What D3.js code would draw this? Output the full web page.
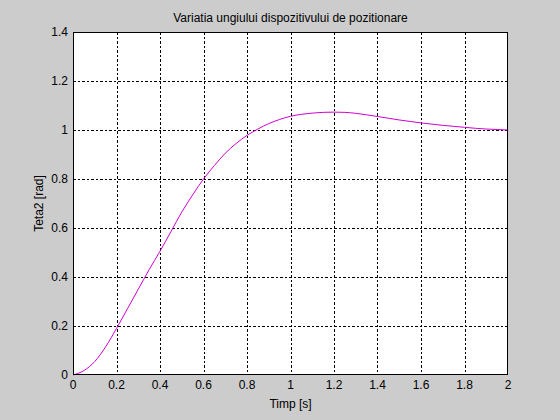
<!DOCTYPE html>
<html lang="en">
<head>
    <meta charset="UTF-8">
    <title>Variatia ungiului</title>
    <script src="https://d3js.org/d3.v7.min.js"></script>
    <style>
        body {
            margin: 0;
            padding: 0;
            background-color: #cccccc;
        }
        svg {
            display: block;
            font-family: "Liberation Sans", Arial, sans-serif;
        }
        .grid line {
            stroke: #000;
            stroke-dasharray: 2.5,2;
            shape-rendering: crispEdges;
        }
        .tick-label {
            font-size: 12px;
            fill: #000;
        }
    </style>
</head>
<body>
    <div id="chart"></div>
    <script>
        // time [s] and angle [rad]
        var timp = [0, 0.05, 0.1, 0.15, 0.2, 0.25, 0.3, 0.35, 0.4, 0.45, 0.5,
                    0.55, 0.6, 0.65, 0.7, 0.75, 0.8, 0.85, 0.9, 0.95, 1.0,
                    1.05, 1.1, 1.15, 1.2, 1.25, 1.3, 1.35, 1.4, 1.45, 1.5,
                    1.55, 1.6, 1.65, 1.7, 1.75, 1.8, 1.85, 1.9, 1.95, 2.0];
        var teta2 = [0, 0.018, 0.055, 0.115, 0.19, 0.27, 0.35, 0.43, 0.505, 0.585, 0.665,
                     0.735, 0.80, 0.855, 0.905, 0.945, 0.978, 1.004, 1.026, 1.043, 1.056,
                     1.064, 1.069, 1.072, 1.073, 1.072, 1.068, 1.062, 1.055, 1.048, 1.041,
                     1.035, 1.029, 1.024, 1.019, 1.015, 1.011, 1.007, 1.004, 1.002, 1.0];
        var xTicks = [0, 0.2, 0.4, 0.6, 0.8, 1, 1.2, 1.4, 1.6, 1.8, 2];
        var yTicks = [0, 0.2, 0.4, 0.6, 0.8, 1, 1.2, 1.4];

        function draw() {
            var w = 560, h = 420;
            var mLeft = 73, mRight = 508, mTop = 32, mBottom = 375;

            var svg = d3.select("#chart")
                .append("svg")
                .attr("width", w)
                .attr("height", h);

            var x = d3.scaleLinear().domain([0, 2]).range([mLeft, mRight]);
            var y = d3.scaleLinear().domain([0, 1.4]).range([mBottom, mTop]);

            // white plot area
            svg.append("rect")
                .attr("x", mLeft)
                .attr("y", mTop)
                .attr("width", mRight - mLeft)
                .attr("height", mBottom - mTop)
                .attr("fill", "#fff");

            // dashed grid
            var grid = svg.append("g").attr("class", "grid");
            grid.selectAll(".gx")
                .data(xTicks.slice(1, -1))
                .enter()
                .append("line")
                .attr("x1", d => Math.round(x(d)) + 0.5)
                .attr("x2", d => Math.round(x(d)) + 0.5)
                .attr("y1", mTop)
                .attr("y2", mBottom);
            grid.selectAll(".gy")
                .data(yTicks.slice(1, -1))
                .enter()
                .append("line")
                .attr("y1", d => Math.round(y(d)) + 0.5)
                .attr("y2", d => Math.round(y(d)) + 0.5)
                .attr("x1", mLeft)
                .attr("x2", mRight);

            // curve
            var line = d3.line()
                .x((d, i) => x(timp[i]))
                .y(d => y(d))
                .curve(d3.curveMonotoneX);

            svg.append("path")
                .datum(teta2)
                .attr("fill", "none")
                .attr("stroke", "#d000d0")
                .attr("stroke-width", 1)
                .attr("d", line);

            // axes box
            svg.append("rect")
                .attr("x", mLeft + 0.5)
                .attr("y", mTop + 0.5)
                .attr("width", mRight - mLeft - 1)
                .attr("height", mBottom - mTop - 1)
                .attr("fill", "none")
                .attr("stroke", "#000")
                .attr("shape-rendering", "crispEdges");

            // tick labels
            var fmt = d => d3.format("~g")(d);
            svg.selectAll(".xl")
                .data(xTicks)
                .enter()
                .append("text")
                .attr("class", "tick-label")
                .attr("x", d => x(d))
                .attr("y", mBottom + 14)
                .attr("text-anchor", "middle")
                .text(fmt);
            svg.selectAll(".yl")
                .data(yTicks)
                .enter()
                .append("text")
                .attr("class", "tick-label")
                .attr("x", mLeft - 5)
                .attr("y", d => y(d))
                .attr("dy", "0.35em")
                .attr("text-anchor", "end")
                .text(fmt);

            // title and axis labels
            svg.append("text")
                .attr("class", "tick-label")
                .attr("x", (mLeft + mRight) / 2)
                .attr("y", 22)
                .attr("text-anchor", "middle")
                .text("Variatia ungiului dispozitivului de pozitionare");
            svg.append("text")
                .attr("class", "tick-label")
                .attr("x", (mLeft + mRight) / 2)
                .attr("y", 408)
                .attr("text-anchor", "middle")
                .text("Timp [s]");
            svg.append("text")
                .attr("class", "tick-label")
                .attr("transform", `translate(43,${(mTop + mBottom) / 2}) rotate(-90)`)
                .attr("text-anchor", "middle")
                .text("Teta2 [rad]");
        }

        draw();
    </script>
</body>
</html>
